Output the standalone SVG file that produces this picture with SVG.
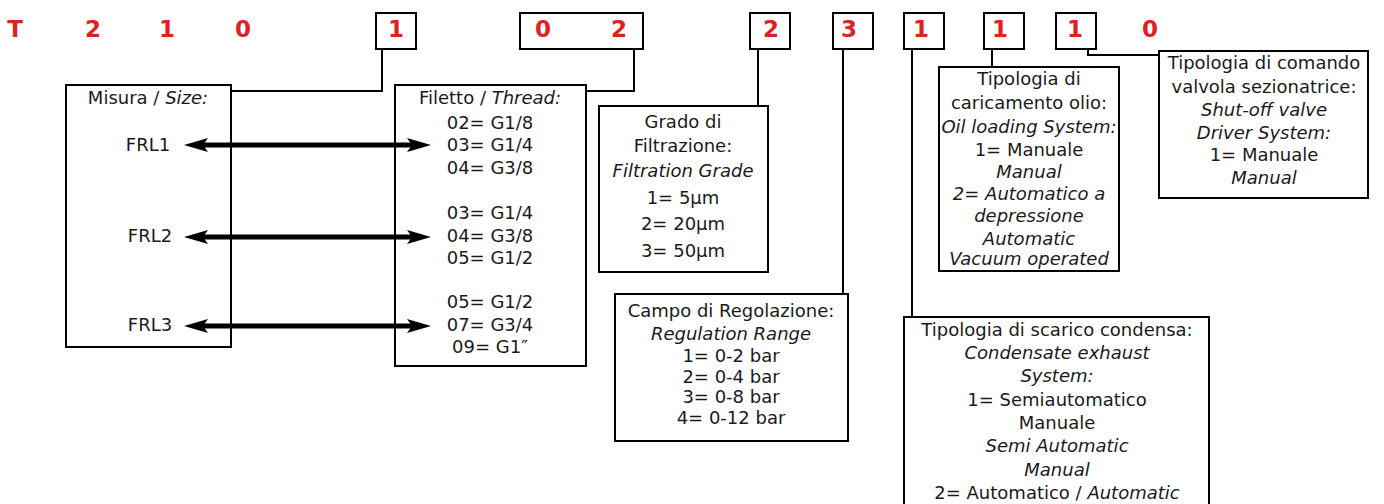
<svg xmlns="http://www.w3.org/2000/svg" width="1384" height="504" viewBox="0 0 1384 504">
<defs>
<style>
text{font-family:"DejaVu Sans","Liberation Sans",sans-serif;font-size:18px;fill:#1a1a1a;text-anchor:middle}
.code{font-weight:bold;font-size:23px;fill:#dd2222}
.i{font-style:italic}
.box{fill:none;stroke:#000;stroke-width:2}
.cbox{fill:none;stroke:#000;stroke-width:2}
.con{fill:none;stroke:#000;stroke-width:2}
.arr{fill:none;stroke:#000;stroke-width:5}
</style>
<marker id="ah" viewBox="0 0 24 14" markerWidth="24" markerHeight="14" refX="14" refY="7" orient="auto-start-reverse" markerUnits="userSpaceOnUse">
<path d="M0,0 L24,7 L0,14 L5,7 Z" fill="#000"/>
</marker>
</defs>
<rect width="1384" height="504" fill="#fff"/>

<g id="code">
<text class="code" x="15" y="37">T</text>
<text class="code" x="93" y="37">2</text>
<text class="code" x="167" y="37">1</text>
<text class="code" x="243" y="37">0</text>
<rect class="cbox" x="376" y="13" width="40" height="36"/>
<text class="code" x="396" y="37">1</text>
<rect class="cbox" x="520" y="13" width="123" height="36"/>
<text class="code" x="543" y="37">0</text>
<text class="code" x="619" y="37">2</text>
<rect class="cbox" x="750" y="13" width="40" height="36"/>
<text class="code" x="771" y="37">2</text>
<rect class="cbox" x="833" y="13" width="40" height="36"/>
<text class="code" x="849" y="37">3</text>
<rect class="cbox" x="904" y="13" width="40" height="36"/>
<text class="code" x="921" y="37">1</text>
<rect class="cbox" x="984" y="13" width="40" height="36"/>
<text class="code" x="1000" y="37">1</text>
<rect class="cbox" x="1056" y="13" width="40" height="36"/>
<text class="code" x="1075" y="37">1</text>
<text class="code" x="1150" y="37">0</text>
</g>

<g id="connectors">
<path class="con" d="M382,49 V91 H231"/>
<path class="con" d="M634,49 V91 H586"/>
<path class="con" d="M758,49 V106"/>
<path class="con" d="M843,49 V294"/>
<path class="con" d="M912,49 V317"/>
<path class="con" d="M992,49 V67"/>
<path class="con" d="M1088,49 V55 H1159"/>
<path class="arr" d="M194,145 H421" marker-start="url(#ah)" marker-end="url(#ah)"/>
<path class="arr" d="M194,237 H421" marker-start="url(#ah)" marker-end="url(#ah)"/>
<path class="arr" d="M194,326 H421" marker-start="url(#ah)" marker-end="url(#ah)"/>
</g>

<g id="misura">
<rect class="box" x="66" y="85" width="165" height="262"/>
<text x="148" y="104">Misura / <tspan class="i">Size:</tspan></text>
<text x="148" y="151">FRL1</text>
<text x="150" y="242">FRL2</text>
<text x="150" y="331">FRL3</text>
</g>

<g id="filetto">
<rect class="box" x="395" y="85" width="191" height="281"/>
<text x="490" y="104">Filetto / <tspan class="i">Thread:</tspan></text>
<text x="490" y="129">02= G1/8</text>
<text x="490" y="151">03= G1/4</text>
<text x="490" y="174">04= G3/8</text>
<text x="490" y="219">03= G1/4</text>
<text x="490" y="242">04= G3/8</text>
<text x="490" y="264">05= G1/2</text>
<text x="490" y="308">05= G1/2</text>
<text x="490" y="331">07= G3/4</text>
<text x="490" y="353">09= G1″</text>
</g>

<g id="grado">
<rect class="box" x="599" y="106" width="169" height="166"/>
<text x="683" y="128">Grado di</text>
<text x="683" y="152">Filtrazione:</text>
<text class="i" x="683" y="177">Filtration Grade</text>
<text x="683" y="204">1= 5µm</text>
<text x="683" y="230">2= 20µm</text>
<text x="683" y="257">3= 50µm</text>
</g>

<g id="campo">
<rect class="box" x="615" y="294" width="233" height="147"/>
<text x="731" y="317">Campo di Regolazione:</text>
<text class="i" x="731" y="340">Regulation Range</text>
<text x="731" y="362">1= 0-2 bar</text>
<text x="731" y="383">2= 0-4 bar</text>
<text x="731" y="403">3= 0-8 bar</text>
<text x="731" y="424">4= 0-12 bar</text>
</g>

<g id="caricamento">
<rect class="box" x="939" y="67" width="180" height="204"/>
<text x="1029" y="85">Tipologia di</text>
<text x="1029" y="109">caricamento olio:</text>
<text class="i" x="1029" y="133">Oil loading System:</text>
<text x="1029" y="156">1= Manuale</text>
<text class="i" x="1029" y="178">Manual</text>
<text class="i" x="1029" y="200">2= Automatico a</text>
<text class="i" x="1029" y="222">depressione</text>
<text class="i" x="1029" y="245">Automatic</text>
<text class="i" x="1029" y="265">Vacuum operated</text>
</g>

<g id="comando">
<rect class="box" x="1159" y="51" width="209" height="147"/>
<text x="1264" y="69">Tipologia di comando</text>
<text x="1264" y="93">valvola sezionatrice:</text>
<text class="i" x="1264" y="116">Shut-off valve</text>
<text class="i" x="1264" y="139">Driver System:</text>
<text x="1264" y="161">1= Manuale</text>
<text class="i" x="1264" y="184">Manual</text>
</g>

<g id="scarico">
<rect class="box" x="904" y="317" width="305" height="200"/>
<text x="1057" y="336">Tipologia di scarico condensa:</text>
<text class="i" x="1057" y="359">Condensate exhaust</text>
<text class="i" x="1057" y="382">System:</text>
<text x="1057" y="406">1= Semiautomatico</text>
<text x="1057" y="429">Manuale</text>
<text class="i" x="1057" y="452">Semi Automatic</text>
<text class="i" x="1057" y="476">Manual</text>
<text x="1057" y="499">2= Automatico / <tspan class="i">Automatic</tspan></text>
</g>
</svg>
